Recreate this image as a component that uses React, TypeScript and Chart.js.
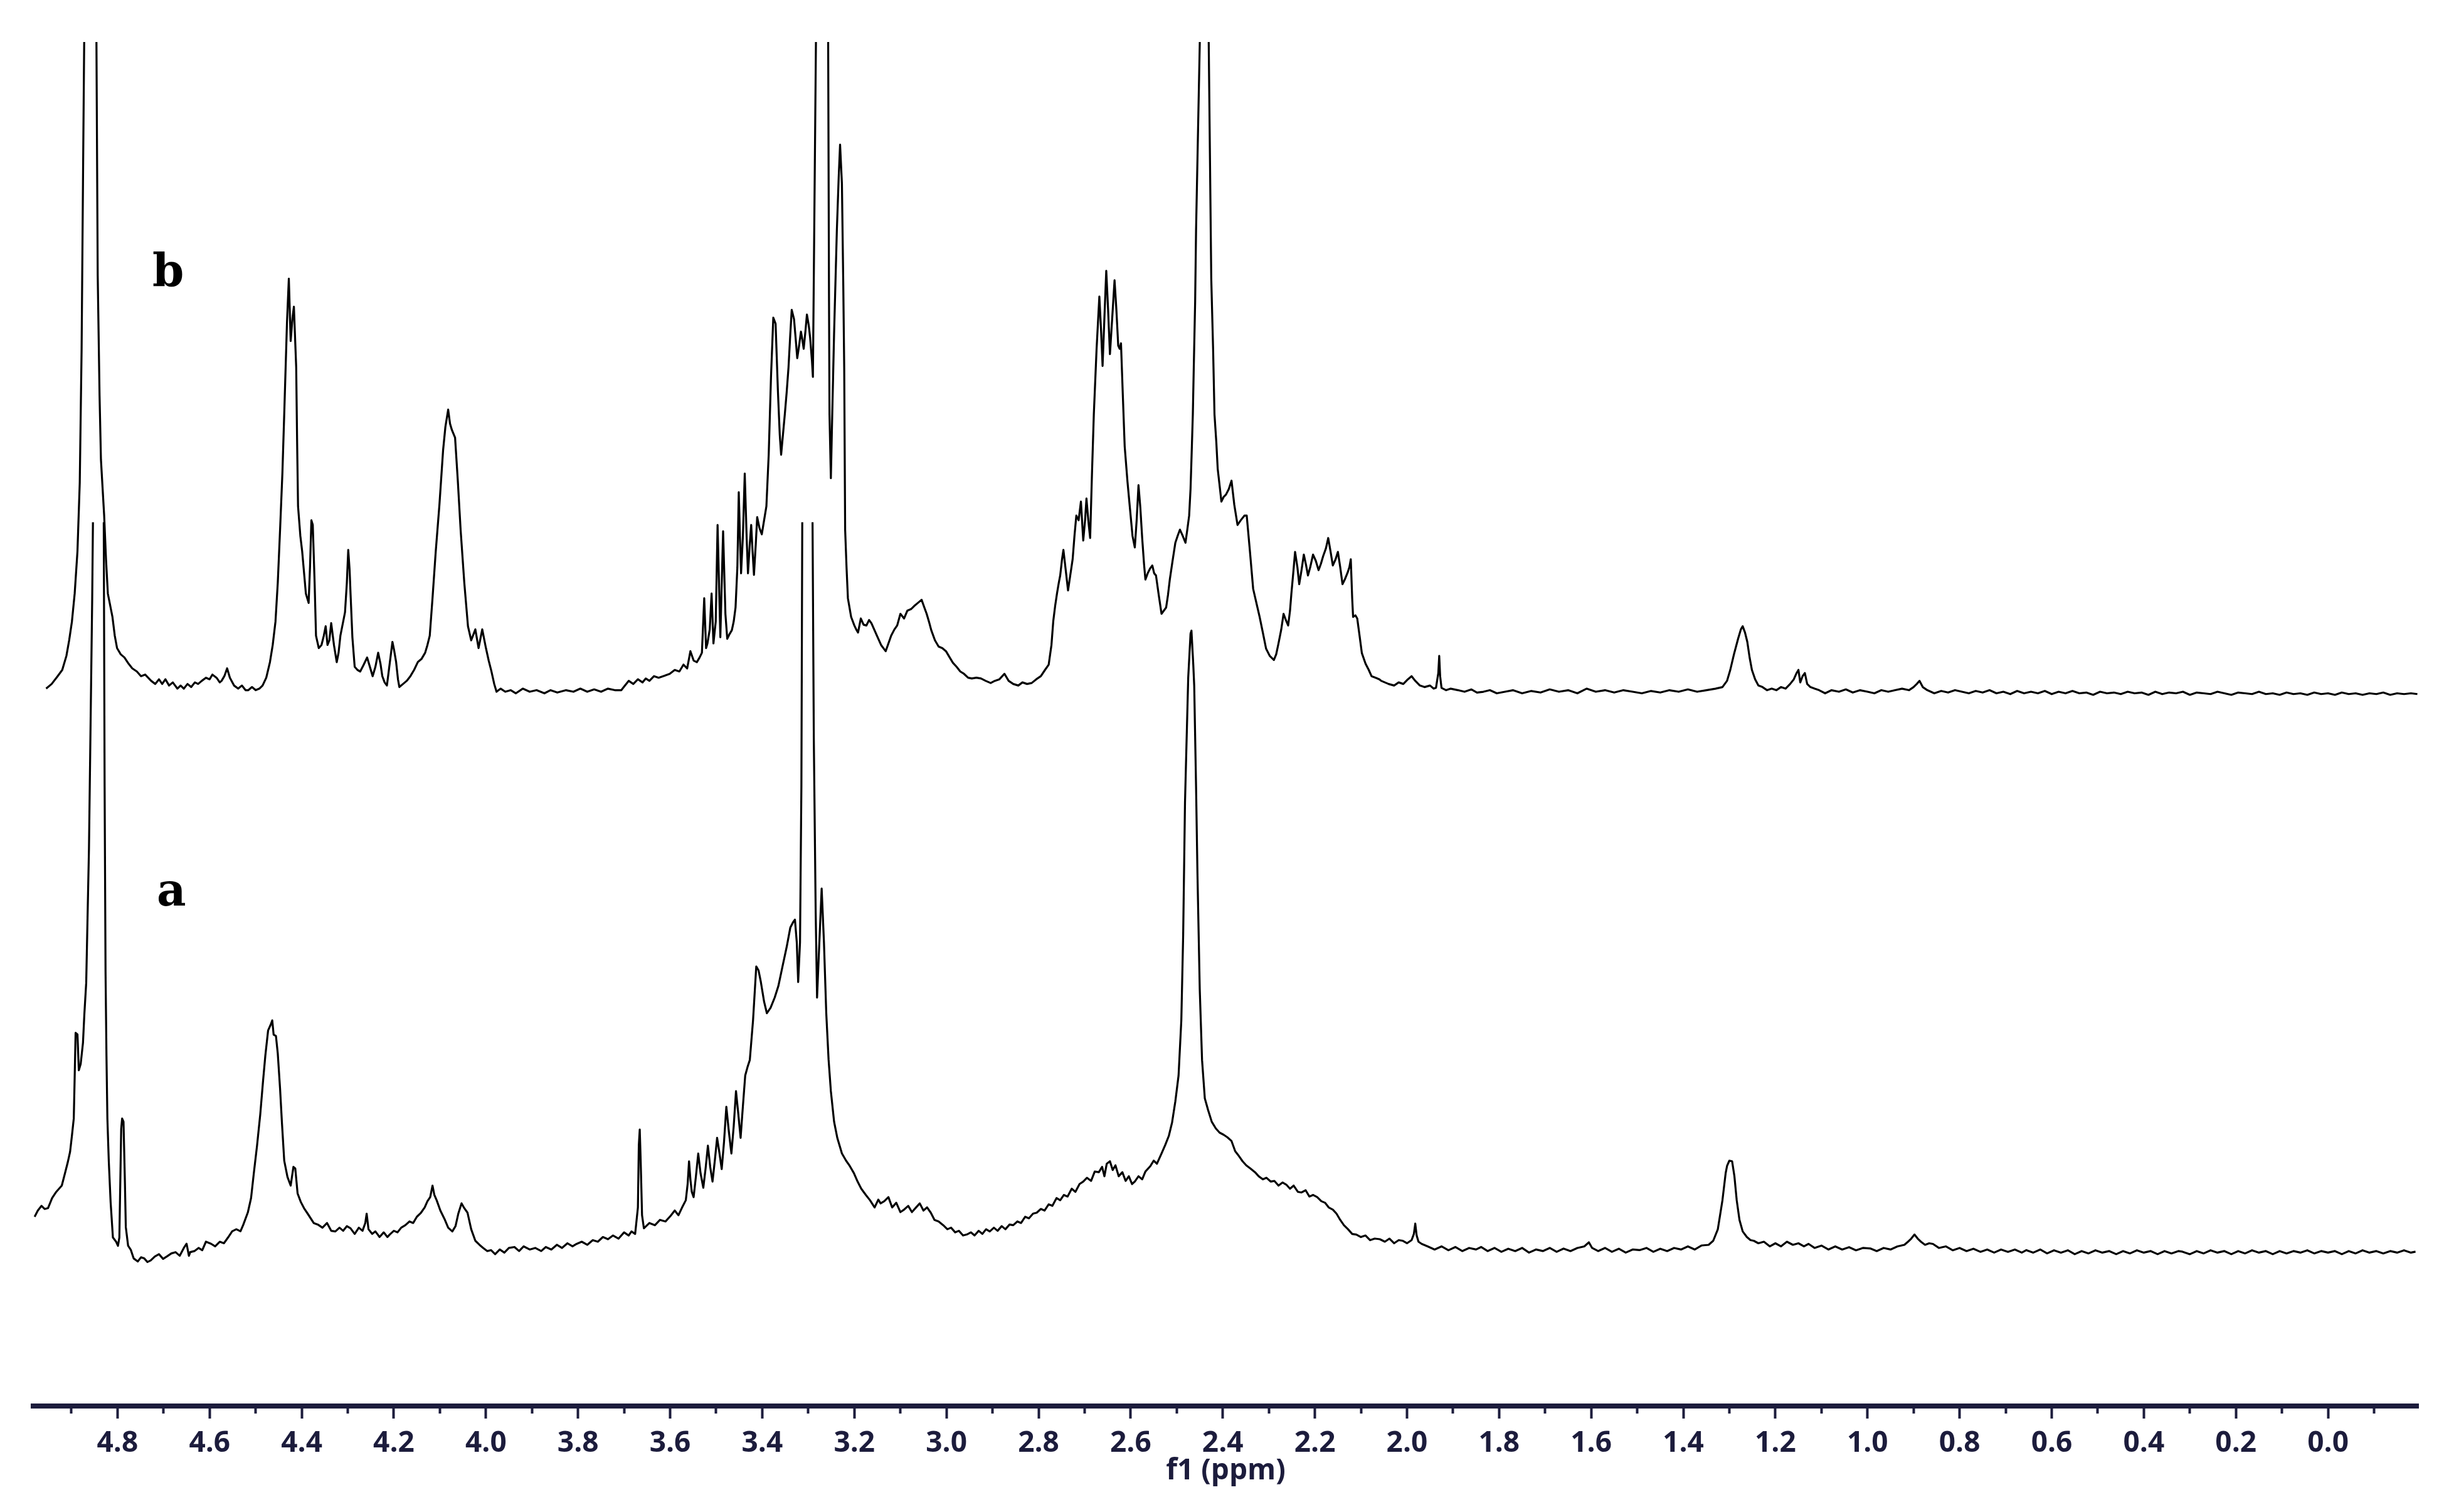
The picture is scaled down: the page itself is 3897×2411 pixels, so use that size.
import React, { useEffect, useRef } from 'react';
import { Chart, registerables } from 'chart.js';

Chart.register(...registerables);

// ---------- axis / layout values ----------
const X_LEFT = 4.983; // ppm at left end of axis
const X_RIGHT = -0.196; // ppm at right end of axis
const Y_MAX = 875; // intensity units over the plot height
const OFFSET_A = 97.4; // baseline of spectrum a
const OFFSET_B = 458.2; // baseline of spectrum b
const CLIP_A = 469.5; // spectrum a is cut at this height above its baseline

const MAJOR_TICKS = [4.8, 4.6, 4.4, 4.2, 4.0, 3.8, 3.6, 3.4, 3.2, 3.0, 2.8, 2.6, 2.4, 2.2, 2.0, 1.8, 1.6, 1.4, 1.2, 1.0, 0.8, 0.6, 0.4, 0.2, 0.0];
const MINOR_TICKS = [4.9, 4.7, 4.5, 4.3, 4.1, 3.9, 3.7, 3.5, 3.3, 3.1, 2.9, 2.7, 2.5, 2.3, 2.1, 1.9, 1.7, 1.5, 1.3, 1.1, 0.9, 0.7, 0.5, 0.3, 0.1, -0.1];
const AXIS_TITLE = 'f1 (ppm)';

const TRACE_NAMES = ['a', 'b'];
const NAME_PPM = [4.683, 4.69];
const NAME_Y = [321, 718];

// ---------- spectrum b : [ppm, intensity above its baseline] ----------
const B_HIGH: [number, number][] = [
  [4.955, 2], [4.943, 5], [4.93, 10], [4.92, 14], [4.911, 23], [4.905, 33], [4.899, 45], [4.893, 63], [4.887, 90], [4.882, 134],
  [4.878, 219], [4.875, 326], [4.872, 430], [4.86, 1000], [4.846, 430], [4.843, 267], [4.839, 190], [4.836, 149], [4.829, 113], [4.825, 85],
  [4.821, 63], [4.811, 48], [4.806, 36], [4.801, 28], [4.793, 24], [4.785, 22], [4.776, 18], [4.768, 15], [4.758, 13], [4.749, 10],
  [4.74, 11], [4.727, 7], [4.718, 5], [4.71, 8], [4.703, 5], [4.696, 8], [4.688, 4], [4.68, 6], [4.67, 2], [4.663, 4],
  [4.656, 2], [4.648, 5], [4.64, 3], [4.632, 6], [4.625, 5], [4.617, 7], [4.608, 9], [4.6, 8], [4.594, 11], [4.585, 9],
  [4.578, 6], [4.574, 7], [4.568, 10], [4.562, 15], [4.556, 9], [4.547, 4], [4.538, 2], [4.53, 4], [4.522, 1], [4.516, 1],
  [4.508, 3], [4.5, 1], [4.492, 2], [4.485, 4], [4.477, 9], [4.469, 19], [4.463, 30], [4.457, 45], [4.452, 70], [4.447, 104],
  [4.442, 140], [4.438, 178], [4.432, 237], [4.428, 265], [4.424, 225], [4.42, 240], [4.417, 247], [4.412, 208], [4.41, 160], [4.408, 119],
  [4.403, 100], [4.399, 90], [4.391, 63], [4.385, 57], [4.382, 80], [4.379, 110], [4.376, 107], [4.372, 70], [4.369, 36], [4.363, 28],
  [4.357, 30], [4.352, 36], [4.348, 42], [4.344, 30], [4.34, 33], [4.336, 44], [4.33, 30], [4.324, 19], [4.32, 25], [4.316, 36],
  [4.31, 45], [4.306, 51], [4.302, 70], [4.299, 91], [4.296, 78], [4.294, 63], [4.29, 35], [4.285, 16], [4.279, 14], [4.273, 13],
  [4.266, 17], [4.258, 22], [4.252, 16], [4.246, 10], [4.24, 16], [4.234, 25], [4.229, 18], [4.225, 10], [4.22, 6], [4.215, 4],
  [4.209, 18], [4.203, 32], [4.199, 26], [4.195, 19], [4.191, 8], [4.188, 3], [4.18, 5], [4.172, 7], [4.164, 10], [4.156, 14],
  [4.148, 19], [4.14, 21], [4.132, 25], [4.127, 30], [4.122, 36], [4.116, 60], [4.109, 90], [4.101, 120], [4.093, 155], [4.088, 170],
  [4.082, 181], [4.078, 172], [4.074, 168], [4.067, 163], [4.061, 135], [4.055, 104], [4.047, 70], [4.039, 42], [4.032, 33], [4.023, 40],
  [4.016, 28], [4.008, 40], [4.0, 28], [3.994, 20], [3.988, 13], [3.982, 5], [3.977, 0], [3.968, 2], [3.958, 0], [3.946, 1],
  [3.935, -1], [3.92, 2], [3.905, 0], [3.89, 1], [3.873, -1], [3.86, 1], [3.845, -0.5], [3.826, 1], [3.81, 0], [3.795, 2],
  [3.78, 0], [3.765, 1.5], [3.75, 0], [3.735, 2], [3.72, 1],
];

const B_MID: [number, number][] = [
  [3.706, 1], [3.698, 4], [3.69, 7], [3.68, 5], [3.67, 8], [3.66, 6], [3.653, 8.5], [3.645, 7], [3.635, 10], [3.625, 9],
  [3.615, 10], [3.601, 11.5], [3.59, 14], [3.58, 13], [3.571, 17.4], [3.563, 15], [3.556, 26], [3.549, 20], [3.542, 19], [3.536, 22],
  [3.531, 25], [3.526, 60], [3.522, 28], [3.519, 31], [3.514, 40], [3.51, 63], [3.506, 31], [3.501, 45], [3.497, 107], [3.491, 35],
  [3.485, 103], [3.48, 50], [3.476, 34], [3.471, 37], [3.466, 39.5], [3.462, 45], [3.458, 54], [3.454, 80], [3.451, 128], [3.448, 95],
  [3.446, 76], [3.442, 100], [3.438, 140], [3.434, 100], [3.431, 76], [3.427, 95], [3.424, 107], [3.421, 90], [3.418, 75], [3.414, 95],
  [3.411, 112], [3.406, 105], [3.401, 101], [3.396, 110], [3.391, 119], [3.386, 152], [3.381, 202], [3.376, 240], [3.371, 236], [3.366, 193],
  [3.362, 165], [3.359, 152], [3.355, 165], [3.351, 178], [3.347, 192], [3.343, 208], [3.339, 230], [3.336, 245], [3.331, 239], [3.327, 225],
  [3.324, 214], [3.32, 222], [3.316, 231], [3.313, 226], [3.31, 220], [3.306, 232], [3.303, 242], [3.299, 235], [3.296, 227], [3.292, 212],
  [3.29, 202], [3.283, 430], [3.268, 1000], [3.257, 430], [3.255, 250], [3.254, 178], [3.251, 137], [3.248, 178], [3.244, 230], [3.238, 296],
  [3.234, 330], [3.231, 351], [3.227, 326], [3.224, 260], [3.222, 207], [3.22, 104], [3.217, 80], [3.214, 60], [3.207, 48], [3.2, 42.5],
  [3.196, 40], [3.192, 38], [3.186, 47], [3.18, 43], [3.174, 42.5], [3.168, 46], [3.163, 44], [3.157, 40], [3.151, 36], [3.142, 30],
  [3.132, 26], [3.126, 31], [3.12, 36], [3.113, 40], [3.107, 42.5], [3.1, 50], [3.092, 47], [3.085, 52], [3.077, 53], [3.07, 55],
  [3.062, 57], [3.054, 59], [3.048, 54], [3.043, 50], [3.038, 45], [3.033, 39.5], [3.025, 33], [3.017, 29], [3.009, 28], [3.001, 26],
  [2.993, 22], [2.986, 18.6], [2.978, 16], [2.97, 13], [2.962, 11.5], [2.953, 9], [2.945, 8.5], [2.935, 9], [2.925, 8.5], [2.915, 7],
  [2.904, 5.6], [2.895, 7], [2.885, 8], [2.874, 11.5], [2.865, 7], [2.855, 5], [2.844, 4], [2.835, 6], [2.825, 5], [2.815, 5.6],
  [2.805, 8], [2.795, 10], [2.786, 14], [2.778, 17.4], [2.772, 30], [2.768, 45.5], [2.764, 55], [2.76, 63], [2.756, 70], [2.753, 74.6],
  [2.749, 85], [2.746, 91], [2.741, 78], [2.736, 65], [2.731, 75], [2.726, 85], [2.722, 100], [2.718, 113], [2.713, 110], [2.708, 122],
  [2.703, 97], [2.699, 110], [2.696, 124], [2.692, 110], [2.688, 98.6], [2.684, 140], [2.68, 178], [2.674, 220], [2.668, 253.5], [2.664, 230],
  [2.661, 209], [2.657, 240], [2.653, 270], [2.649, 245], [2.645, 216.6], [2.64, 240], [2.635, 264], [2.631, 245], [2.627, 222], [2.624, 220],
  [2.621, 223.5], [2.617, 190], [2.613, 157.5], [2.607, 135], [2.602, 119], [2.596, 100], [2.591, 92.6], [2.587, 110], [2.583, 132.5], [2.579, 118],
  [2.575, 98.6], [2.571, 82], [2.568, 72], [2.563, 76], [2.558, 79], [2.553, 81], [2.549, 76], [2.545, 74.6], [2.539, 62], [2.533, 50],
  [2.528, 52], [2.523, 54], [2.519, 62], [2.515, 72], [2.509, 84], [2.503, 95.6], [2.498, 100], [2.493, 104], [2.487, 100], [2.481, 95.6],
  [2.477, 104], [2.473, 113], [2.47, 130], [2.468, 148.7], [2.465, 178], [2.463, 207.6], [2.46, 250], [2.458, 296], [2.449, 430], [2.438, 1000],
  [2.431, 430], [2.425, 265], [2.421, 220], [2.418, 178], [2.414, 160], [2.411, 143], [2.406, 130], [2.403, 122], [2.398, 125], [2.393, 126.5],
  [2.387, 130], [2.381, 135.4], [2.375, 120], [2.368, 107], [2.361, 110], [2.353, 113], [2.348, 113], [2.341, 90], [2.334, 66], [2.327, 57],
  [2.32, 48], [2.313, 38], [2.306, 27.7], [2.298, 23], [2.289, 20.4], [2.284, 24], [2.279, 31], [2.273, 40], [2.268, 50], [2.263, 46],
  [2.258, 42.5], [2.254, 52], [2.251, 63], [2.247, 76], [2.243, 89.7], [2.238, 80], [2.234, 69], [2.229, 78], [2.224, 88], [2.219, 81],
  [2.215, 74.6], [2.21, 80], [2.204, 88], [2.198, 84], [2.192, 78], [2.187, 82], [2.182, 87], [2.176, 92], [2.171, 98.6], [2.166, 90],
  [2.161, 81], [2.155, 85], [2.15, 89.7], [2.145, 80], [2.14, 69], [2.135, 72], [2.129, 76.4], [2.125, 80], [2.122, 85], [2.119, 60],
  [2.117, 48], [2.112, 49], [2.108, 47], [2.103, 36], [2.098, 24.8], [2.09, 18], [2.083, 14], [2.077, 10], [2.068, 9], [2.06, 8],
  [2.056, 7], [2.048, 6], [2.04, 5], [2.028, 4], [2.018, 6], [2.008, 5], [1.998, 8], [1.99, 10], [1.982, 7], [1.972, 4],
  [1.962, 3], [1.95, 4], [1.942, 2], [1.937, 2.5], [1.932, 12], [1.93, 23], [1.928, 10], [1.925, 2.5], [1.915, 1], [1.905, 2],
  [1.889, 1], [1.875, 0], [1.86, 1.5], [1.848, -0.5], [1.834, 0], [1.82, 1], [1.805, -1], [1.787, 0],
];

const B_LOW: [number, number][] = [
  [1.77, 1], [1.75, -1], [1.73, 0.5], [1.71, -0.5], [1.69, 1.5], [1.67, 0], [1.65, 1], [1.63, -1], [1.61, 2], [1.59, 0],
  [1.57, 1], [1.55, -0.5], [1.53, 1], [1.51, 0], [1.49, -1], [1.47, 0.5], [1.45, -0.5], [1.43, 1], [1.41, 0], [1.39, 1.5],
  [1.37, 0], [1.35, 1], [1.33, 2], [1.315, 3], [1.305, 7], [1.298, 14], [1.29, 24], [1.281, 34], [1.275, 40], [1.271, 42],
  [1.266, 38], [1.261, 32], [1.256, 22], [1.251, 14], [1.244, 8], [1.237, 4], [1.228, 3], [1.218, 1], [1.208, 2], [1.198, 1],
  [1.188, 3], [1.178, 2], [1.168, 5], [1.16, 8], [1.154, 12], [1.15, 14], [1.146, 6], [1.141, 10], [1.136, 12], [1.131, 5],
  [1.124, 3], [1.115, 2], [1.105, 1], [1.092, -1], [1.078, 1], [1.062, 0], [1.047, 1.5], [1.032, -0.5], [1.016, 1], [1.0, 0],
  [0.985, -1], [0.97, 1], [0.955, 0], [0.94, 1], [0.925, 2], [0.91, 1], [0.9, 3], [0.893, 5], [0.887, 7], [0.88, 3],
  [0.87, 1], [0.855, -1], [0.84, 0.5], [0.825, -0.5], [0.81, 1], [0.795, 0], [0.78, -1], [0.765, 0.5], [0.75, -0.5], [0.735, 1],
  [0.72, -1], [0.705, 0], [0.69, -1.5], [0.675, 0.5], [0.66, -1], [0.645, 0], [0.63, -1], [0.615, 0.5], [0.6, -1.5], [0.585, 0],
  [0.57, -1], [0.555, 0.5], [0.54, -1], [0.525, -0.5], [0.51, -2], [0.495, 0], [0.48, -1], [0.465, -0.5], [0.45, -1.5], [0.435, 0],
  [0.42, -1], [0.405, -0.5], [0.39, -2], [0.375, 0], [0.36, -1.5], [0.345, -0.5], [0.33, -1], [0.315, 0], [0.3, -2], [0.285, -0.5],
  [0.27, -1], [0.255, -1.5], [0.24, 0], [0.225, -1], [0.21, -2], [0.195, -0.5], [0.18, -1], [0.165, -1.5], [0.15, 0], [0.135, -1.5],
  [0.12, -1], [0.105, -2], [0.09, -0.5], [0.075, -1.5], [0.06, -1], [0.045, -2], [0.03, -0.5], [0.015, -1.5], [0.0, -1], [-0.015, -2],
  [-0.03, -0.5], [-0.045, -1.5], [-0.06, -1], [-0.075, -2], [-0.09, -1], [-0.105, -1.5], [-0.12, -0.5], [-0.135, -2], [-0.15, -1], [-0.165, -1.5],
  [-0.18, -1], [-0.194, -1.5],
];

// ---------- spectrum a : [ppm, intensity above its baseline] ----------
const A_HIGH: [number, number][] = [
  [4.98, 24], [4.973, 28], [4.965, 31], [4.958, 29], [4.951, 29.5], [4.942, 36], [4.933, 40], [4.921, 44], [4.914, 52], [4.908, 59],
  [4.903, 65.7], [4.899, 76], [4.895, 87], [4.893, 114], [4.891, 142], [4.887, 141], [4.884, 118], [4.88, 122], [4.875, 135.6], [4.872, 154],
  [4.868, 174], [4.862, 260], [4.855, 420], [4.853, 480], [4.842, 900], [4.83, 480], [4.828, 300], [4.826, 181], [4.824, 127.5], [4.822, 87],
  [4.819, 60], [4.815, 33.5], [4.81, 10.7], [4.803, 8], [4.799, 5.4], [4.796, 10.7], [4.792, 80.5], [4.79, 87], [4.787, 85], [4.784, 47],
  [4.782, 17.4], [4.777, 5.4], [4.771, 2.7], [4.765, -2.7], [4.756, -4.7], [4.749, -2], [4.742, -2.7], [4.735, -5], [4.728, -4], [4.719, -1.5],
  [4.71, 0], [4.701, -3], [4.692, -1.3], [4.683, 0.5], [4.674, 1.3], [4.665, -1], [4.656, 4], [4.65, 6.7], [4.645, -1], [4.642, 1.3],
  [4.633, 2], [4.624, 4], [4.616, 2.5], [4.608, 8], [4.597, 6.7], [4.588, 5], [4.578, 8], [4.569, 7], [4.56, 10.7], [4.551, 14.7],
  [4.542, 16], [4.533, 14.7], [4.527, 18.8], [4.517, 26.8], [4.51, 36], [4.504, 52], [4.497, 69.7], [4.49, 89.8], [4.484, 111], [4.479, 127.4],
  [4.473, 143.5], [4.467, 147.5], [4.464, 150], [4.461, 140.8], [4.456, 140], [4.452, 128.7], [4.447, 106], [4.443, 84.5], [4.438, 60], [4.431, 49.6],
  [4.424, 44], [4.418, 56], [4.414, 55], [4.409, 39], [4.402, 33.5], [4.395, 29.5], [4.386, 25.5], [4.374, 20],
];

const A_MID: [number, number][] = [
  [4.365, 19], [4.355, 17], [4.345, 20], [4.336, 15], [4.327, 14.6], [4.318, 17], [4.31, 15], [4.302, 18], [4.294, 16.6], [4.285, 13],
  [4.276, 17], [4.268, 15], [4.262, 20], [4.259, 26], [4.255, 16], [4.247, 13], [4.24, 14.6], [4.231, 11], [4.222, 14], [4.214, 11],
  [4.209, 12.6], [4.2, 15], [4.192, 14], [4.184, 17], [4.175, 18.6], [4.166, 21], [4.158, 20], [4.15, 24], [4.141, 26.6], [4.133, 30],
  [4.127, 34], [4.121, 36.6], [4.116, 44], [4.112, 38], [4.107, 34.6], [4.099, 28], [4.09, 22.6], [4.082, 17], [4.073, 14.6], [4.066, 18],
  [4.06, 26], [4.053, 32.6], [4.048, 30], [4.04, 26.6], [4.032, 16], [4.023, 8.6], [4.014, 6], [4.006, 4], [3.997, 2], [3.989, 2.6],
  [3.98, 0], [3.97, 3], [3.96, 1], [3.95, 4], [3.938, 4.6], [3.928, 2], [3.918, 5], [3.905, 3], [3.893, 4], [3.88, 2],
  [3.87, 4.6], [3.858, 3], [3.846, 6], [3.835, 4], [3.823, 7], [3.812, 5], [3.803, 6.6], [3.792, 8], [3.78, 6], [3.768, 9],
  [3.757, 8], [3.746, 11], [3.735, 9.6], [3.724, 12], [3.712, 10], [3.7, 14], [3.69, 12], [3.684, 14.6], [3.676, 13], [3.67, 30],
  [3.668, 70], [3.666, 80], [3.664, 60], [3.661, 25], [3.657, 16.6], [3.645, 20], [3.633, 18.6], [3.622, 22], [3.61, 21], [3.599, 24.6],
  [3.59, 28], [3.582, 25], [3.574, 30], [3.566, 34.6], [3.562, 45], [3.559, 59.6], [3.556, 48], [3.553, 40], [3.549, 36.6], [3.544, 50],
  [3.539, 64.6], [3.534, 52], [3.528, 42.6], [3.523, 55], [3.518, 69.6], [3.513, 56], [3.508, 46.6], [3.503, 60], [3.498, 74.6], [3.493, 65],
  [3.488, 54.6], [3.483, 72], [3.478, 94.6], [3.473, 80], [3.467, 64.6], [3.462, 82], [3.457, 104.6], [3.452, 90], [3.447, 74.6], [3.442, 95],
  [3.437, 114.6], [3.432, 120], [3.427, 124.6], [3.42, 150], [3.413, 184.6], [3.408, 182], [3.403, 174.6], [3.396, 162], [3.39, 154.6], [3.382, 158],
  [3.373, 164.6], [3.365, 172], [3.356, 184.6], [3.347, 197], [3.339, 209.6], [3.333, 213], [3.329, 214.6], [3.325, 200], [3.322, 174.6], [3.318, 200],
  [3.315, 300], [3.313, 480], [3.302, 900], [3.291, 480], [3.288, 330], [3.284, 220], [3.281, 164.6], [3.276, 200], [3.271, 234.6], [3.266, 200],
  [3.261, 154.6], [3.256, 125], [3.251, 104.6], [3.244, 85], [3.237, 74.6], [3.227, 64.6], [3.218, 60], [3.21, 56.6], [3.201, 52], [3.193, 46.6],
  [3.185, 42], [3.175, 38], [3.166, 34.6], [3.156, 30], [3.148, 35], [3.143, 32.6], [3.135, 34], [3.126, 36.6], [3.118, 30], [3.109, 33],
  [3.1, 27], [3.092, 28.6], [3.083, 31], [3.075, 27], [3.066, 30], [3.058, 32.6], [3.05, 28], [3.042, 30], [3.034, 26.6], [3.026, 22],
  [3.017, 21], [3.007, 18.6], [2.998, 16], [2.99, 17], [2.981, 14], [2.973, 15], [2.964, 12], [2.956, 12.6], [2.947, 14], [2.939, 12],
  [2.93, 15], [2.922, 13], [2.914, 16], [2.906, 14.6], [2.897, 17], [2.889, 15], [2.88, 18], [2.872, 16], [2.863, 19], [2.855, 18.6],
  [2.846, 21], [2.838, 20], [2.829, 24], [2.821, 23], [2.812, 26], [2.804, 26.6], [2.795, 29], [2.787, 28], [2.778, 32], [2.77, 31],
  [2.761, 36], [2.753, 34.6], [2.745, 38], [2.737, 37], [2.728, 42], [2.72, 40], [2.711, 45], [2.703, 46.6], [2.695, 49], [2.686, 47],
  [2.678, 53], [2.669, 52.6], [2.662, 56], [2.657, 50], [2.652, 58], [2.645, 59.6], [2.639, 54], [2.633, 57], [2.626, 50], [2.618, 52.6],
  [2.611, 47], [2.604, 50], [2.597, 45], [2.591, 46.6], [2.583, 50], [2.575, 48], [2.568, 53], [2.557, 56.6], [2.55, 60], [2.543, 58],
  [2.533, 64.6], [2.525, 70], [2.517, 76], [2.51, 84.6], [2.503, 98], [2.496, 114.6], [2.49, 150], [2.486, 204.6], [2.482, 290], [2.479, 324.6],
  [2.475, 370], [2.47, 398], [2.468, 400], [2.464, 378], [2.462, 364.6], [2.458, 300], [2.455, 244.6], [2.45, 170], [2.445, 124.6], [2.439, 100],
  [2.432, 92.6], [2.424, 85], [2.415, 80.6], [2.407, 78], [2.398, 76.6], [2.39, 75], [2.381, 72.6], [2.373, 66], [2.365, 63], [2.357, 59.6],
  [2.349, 57], [2.34, 55], [2.33, 52.6], [2.322, 50], [2.313, 48], [2.305, 49], [2.296, 46.6], [2.288, 47], [2.279, 44], [2.27, 46],
  [2.262, 44.6], [2.254, 42], [2.246, 44], [2.237, 40], [2.229, 39.6], [2.22, 41], [2.212, 37], [2.204, 38], [2.195, 36.6], [2.186, 34],
  [2.178, 33], [2.17, 30], [2.161, 28.6], [2.153, 26], [2.145, 22], [2.137, 18.6], [2.128, 16], [2.119, 13], [2.11, 12.6], [2.1, 11],
  [2.09, 12], [2.08, 9], [2.07, 10], [2.059, 9.6], [2.048, 8], [2.038, 10], [2.028, 7], [2.018, 9], [2.009, 8.6], [2.0, 7],
  [1.99, 9], [1.985, 13], [1.982, 19.6], [1.979, 12], [1.975, 8], [1.968, 6.6],
];

const A_LOW: [number, number][] = [
  [1.955, 5], [1.94, 3], [1.925, 5], [1.91, 2.5], [1.895, 4.6], [1.88, 2], [1.865, 4], [1.85, 3], [1.839, 4.6], [1.825, 2],
  [1.81, 4], [1.795, 1.5], [1.78, 3.5], [1.765, 2], [1.75, 4], [1.735, 1], [1.72, 3], [1.705, 2], [1.69, 4], [1.675, 1.5],
  [1.66, 3.6], [1.645, 2], [1.63, 4], [1.615, 5], [1.605, 7.6], [1.598, 4], [1.585, 2], [1.57, 4], [1.555, 1.5], [1.54, 3.5],
  [1.525, 1], [1.51, 3], [1.495, 2.6], [1.48, 4], [1.465, 1.5], [1.45, 3.5], [1.435, 2], [1.42, 4], [1.405, 3], [1.39, 5],
  [1.375, 3], [1.36, 5.6], [1.345, 6], [1.335, 8.6], [1.325, 16], [1.315, 34.6], [1.308, 52], [1.305, 56.6], [1.3, 60], [1.294, 59.6],
  [1.289, 50], [1.284, 34.6], [1.278, 22], [1.271, 14.6], [1.262, 11], [1.254, 9], [1.247, 8.6], [1.237, 7], [1.225, 8], [1.212, 5],
  [1.2, 7], [1.188, 5], [1.175, 8], [1.162, 6], [1.15, 7], [1.138, 5], [1.128, 6.6], [1.115, 4], [1.1, 5.5], [1.085, 3],
  [1.07, 5], [1.055, 3], [1.04, 4.5], [1.025, 2.5], [1.01, 4], [0.993, 3.6], [0.98, 2], [0.965, 4], [0.95, 3], [0.935, 5],
  [0.92, 6], [0.912, 8], [0.905, 10], [0.898, 12.6], [0.891, 10], [0.884, 8], [0.875, 6], [0.866, 7], [0.858, 6.6], [0.845, 4],
  [0.83, 5], [0.815, 2.5], [0.8, 4], [0.785, 2], [0.77, 3.5], [0.755, 1.5], [0.74, 3], [0.725, 1], [0.71, 3], [0.695, 1.5],
  [0.68, 3], [0.665, 1], [0.655, 2.6], [0.64, 1], [0.625, 3], [0.61, 0.5], [0.595, 2.5], [0.58, 1], [0.565, 2.5], [0.55, 0],
  [0.535, 2], [0.52, 0.5], [0.505, 2.5], [0.49, 1], [0.475, 2], [0.46, 0], [0.445, 2], [0.43, 0.5], [0.415, 2.5], [0.4, 1],
  [0.385, 2], [0.37, 0], [0.355, 2], [0.34, 0.5], [0.325, 2], [0.316, 1.6], [0.3, 0], [0.285, 2], [0.27, 0.5], [0.255, 2.5],
  [0.24, 1], [0.225, 2], [0.21, 0], [0.195, 2], [0.18, 0.5], [0.165, 2.5], [0.15, 1], [0.135, 2], [0.12, 0], [0.105, 2],
  [0.09, 0.5], [0.075, 2], [0.06, 1], [0.045, 2.5], [0.03, 0.5], [0.015, 2], [0.0, 1], [-0.015, 2], [-0.03, 0], [-0.045, 2],
  [-0.06, 0.5], [-0.075, 2.5], [-0.09, 1], [-0.105, 2], [-0.12, 0.5], [-0.135, 2], [-0.15, 1], [-0.165, 2.5], [-0.18, 1], [-0.19, 1.6],
];

// ---------- styling ----------
const INK = '#000000';
const AXIS_INK = '#1c1c3c';
const TICK_FONT = { family: "'Open Sans', 'DejaVu Sans', sans-serif", size: 46, weight: 'bold' as const };

const ALL_TICKS = [...MAJOR_TICKS, ...MINOR_TICKS].sort((p, q) => q - p);
const isMajor = (v: number) => MAJOR_TICKS.some((m) => Math.abs(m - v) < 1e-6);

const toPoints = (rows: [number, number][], offset: number) => rows.map(([x, y]) => ({ x, y: y + offset }));

const traceNamePlugin = {
  id: 'traceNames',
  afterDatasetsDraw(chart: any) {
    const { ctx, scales } = chart;
    ctx.save();
    ctx.font = "bold 72px 'DejaVu Serif', serif";
    ctx.fillStyle = INK;
    ctx.textAlign = 'center';
    ctx.textBaseline = 'alphabetic';
    TRACE_NAMES.forEach((name, i) => {
      ctx.fillText(name, scales.x.getPixelForValue(NAME_PPM[i]), scales.y.getPixelForValue(NAME_Y[i]));
    });
    ctx.restore();
  },
};

export default function App() {
  const canvasRef = useRef<HTMLCanvasElement | null>(null);

  useEffect(() => {
    const canvas = canvasRef.current;
    if (!canvas) return;
    const chart = new Chart(canvas, {
      type: 'scatter',
      data: {
        datasets: [
          {
            label: 'a',
            data: toPoints([...A_HIGH, ...A_MID, ...A_LOW], OFFSET_A),
            showLine: true,
            borderColor: INK,
            borderWidth: 3.2,
            pointRadius: 0,
            tension: 0,
            borderJoinStyle: 'round',
            clip: { left: false, right: false, bottom: false, top: -(Y_MAX - OFFSET_A - CLIP_A) * (2175 / Y_MAX) },
          } as any,
          {
            label: 'b',
            data: toPoints([...B_HIGH, ...B_MID, ...B_LOW], OFFSET_B),
            showLine: true,
            borderColor: INK,
            borderWidth: 3.2,
            pointRadius: 0,
            tension: 0,
            borderJoinStyle: 'round',
          } as any,
        ],
      },
      options: {
        responsive: false,
        maintainAspectRatio: false,
        devicePixelRatio: 1,
        animation: false,
        events: [],
        layout: { padding: { left: 53, right: 41, top: 67, bottom: 0 } },
        plugins: { legend: { display: false }, tooltip: { enabled: false }, title: { display: false } },
        scales: {
          x: {
            type: 'linear',
            position: 'bottom',
            reverse: true,
            bounds: 'data',
            min: X_RIGHT,
            max: X_LEFT,
            afterBuildTicks: (scale: any) => {
              scale.ticks = ALL_TICKS.map((value) => ({ value }));
            },
            afterFit: (scale: any) => {
              scale.height = 169;
            },
            border: { display: true, color: AXIS_INK, width: 8 },
            grid: {
              display: true,
              drawOnChartArea: false,
              drawTicks: true,
              tickLength: 20,
              tickWidth: 4,
              tickColor: AXIS_INK,
              tickBorderDash: (ctx: any) => (ctx.tick && isMajor(ctx.tick.value) ? [] : [8, 1000]),
            },
            ticks: {
              autoSkip: false,
              maxRotation: 0,
              minRotation: 0,
              padding: 12,
              color: AXIS_INK,
              font: TICK_FONT,
              callback: (v: any) => (isMajor(Number(v)) ? Math.abs(Number(v)).toFixed(1) : ''),
            },
            title: {
              display: true,
              text: AXIS_TITLE,
              color: AXIS_INK,
              font: TICK_FONT,
              padding: { top: 0, bottom: 38 },
            },
          },
          y: { type: 'linear', display: false, min: 0, max: Y_MAX },
        },
      } as any,
      plugins: [traceNamePlugin],
    });
    return () => chart.destroy();
  }, []);

  return (
    <div style={{ position: 'absolute', left: 0, top: 0, width: 3897, height: 2411, background: '#ffffff' }}>
      <canvas ref={canvasRef} width={3897} height={2411} style={{ display: 'block', width: 3897, height: 2411 }} />
    </div>
  );
}
